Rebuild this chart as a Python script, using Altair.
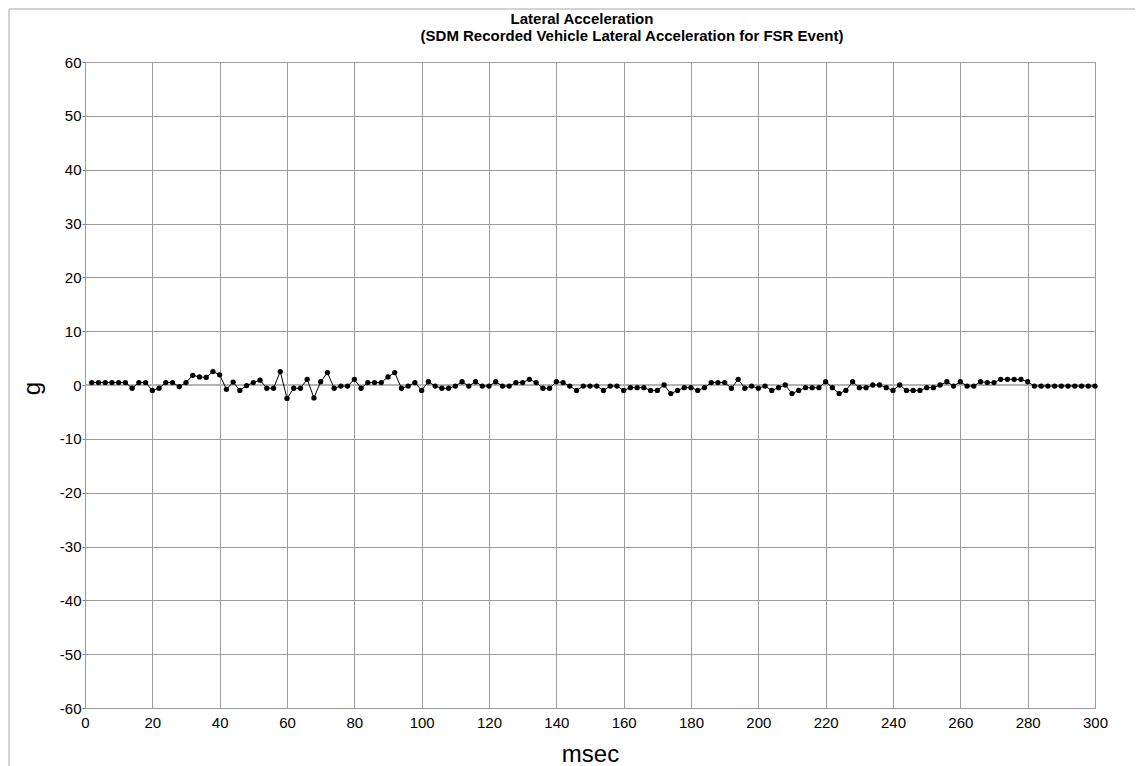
import altair as alt
import pandas as pd

# Sample times (msec)
msec = [
    2, 4, 6, 8, 10, 12, 14, 16, 18, 20, 22, 24, 26, 28, 30, 32, 34, 36, 38, 40,
    42, 44, 46, 48, 50, 52, 54, 56, 58, 60, 62, 64, 66, 68, 70, 72, 74, 76, 78, 80,
    82, 84, 86, 88, 90, 92, 94, 96, 98, 100, 102, 104, 106, 108, 110, 112, 114, 116, 118, 120,
    122, 124, 126, 128, 130, 132, 134, 136, 138, 140, 142, 144, 146, 148, 150, 152, 154, 156, 158, 160,
    162, 164, 166, 168, 170, 172, 174, 176, 178, 180, 182, 184, 186, 188, 190, 192, 194, 196, 198, 200,
    202, 204, 206, 208, 210, 212, 214, 216, 218, 220, 222, 224, 226, 228, 230, 232, 234, 236, 238, 240,
    242, 244, 246, 248, 250, 252, 254, 256, 258, 260, 262, 264, 266, 268, 270, 272, 274, 276, 278, 280,
    282, 284, 286, 288, 290, 292, 294, 296, 298, 300,
]

# Lateral acceleration (g)
accel_g = [
    0.45, 0.45, 0.45, 0.45, 0.45, 0.45, -0.6, 0.45, 0.45, -1.0,
    -0.6, 0.45, 0.45, -0.3, 0.45, 1.8, 1.5, 1.4, 2.5, 1.9,
    -0.8, 0.55, -1.0, -0.1, 0.45, 0.9, -0.6, -0.6, 2.5, -2.5,
    -0.6, -0.6, 1.05, -2.4, 0.6, 2.3, -0.6, -0.2, -0.2, 1.05,
    -0.6, 0.45, 0.45, 0.45, 1.5, 2.3, -0.6, -0.2, 0.45, -1.0,
    0.6, -0.2, -0.6, -0.6, -0.2, 0.6, -0.2, 0.6, -0.2, -0.2,
    0.6, -0.2, -0.2, 0.45, 0.45, 1.05, 0.45, -0.6, -0.6, 0.6,
    0.45, -0.2, -1.0, -0.2, -0.2, -0.2, -1.0, -0.2, -0.2, -1.0,
    -0.5, -0.5, -0.5, -1.0, -1.0, 0.0, -1.6, -1.0, -0.5, -0.5,
    -1.0, -0.5, 0.45, 0.45, 0.45, -0.6, 1.05, -0.6, -0.2, -0.6,
    -0.2, -1.0, -0.5, 0.0, -1.6, -1.0, -0.5, -0.5, -0.5, 0.6,
    -0.5, -1.6, -1.0, 0.6, -0.5, -0.5, 0.0, 0.0, -0.5, -1.0,
    0.0, -1.0, -1.0, -1.0, -0.5, -0.5, 0.0, 0.6, -0.2, 0.6,
    -0.2, -0.2, 0.6, 0.45, 0.45, 1.05, 1.05, 1.05, 1.05, 0.6,
    -0.2, -0.2, -0.2, -0.2, -0.2, -0.2, -0.2, -0.2, -0.2, -0.2,
]

x_ticks = [0, 20, 40, 60, 80, 100, 120, 140, 160, 180, 200, 220, 240, 260, 280, 300]
y_ticks = [-60, -50, -40, -30, -20, -10, 0, 10, 20, 30, 40, 50, 60]

title_line1 = "Lateral Acceleration"
title_line2 = "(SDM Recorded Vehicle Lateral Acceleration for FSR Event)"

df = pd.DataFrame({"msec": msec, "g": accel_g})

FONT = "Liberation Sans"
W, H = 1010, 646
GRID = "#9c9c9c"

x_enc = alt.X(
    "msec:Q",
    scale=alt.Scale(domain=[0, 300], nice=False, zero=False),
    axis=alt.Axis(
        values=x_ticks, title="msec", titleFontSize=24, titleFontWeight="normal",
        titleColor="black", titleBaseline="alphabetic", titleY=53,
        labelFontSize=15, labelColor="black", labelPadding=7, tickSize=0,
        labelFont=FONT, titleFont=FONT, labelFlush=False,
        labelExpr="'' + datum.value",
        grid=True, gridColor=GRID, gridWidth=1, domainColor=GRID,
    ),
)
y_enc = alt.Y(
    "g:Q",
    scale=alt.Scale(domain=[-60, 60], nice=False),
    axis=alt.Axis(
        values=y_ticks, title="g", titleFontSize=24, titleFontWeight="normal",
        titleColor="black", titleAngle=270, titleBaseline="middle", titleAlign="center",
        titleX=-53, titleY=H / 2 + 3,
        labelFontSize=15, labelColor="black", labelPadding=1, tickSize=3,
        tickColor="#808080", labelFont=FONT, titleFont=FONT, labelFlush=False,
        labelExpr="'' + datum.value",
        grid=True, gridColor=GRID, gridWidth=1, domainColor=GRID,
    ),
)

base = alt.Chart(df)

zero_rule = base.mark_rule(color="#b4b4b4", strokeWidth=2).encode(
    y=alt.datum(0)
)

line = base.mark_line(color="black", strokeWidth=1).encode(x=x_enc, y=y_enc)
pts = base.mark_circle(color="black", opacity=1, size=28).encode(x="msec:Q", y="g:Q")

one = alt.Data(values=[{"a": 1}])
t1 = alt.Chart(one).mark_text(
    text=title_line1, font=FONT, fontSize=15, fontWeight="bold", color="black",
    align="center", baseline="middle",
).encode(x=alt.value(497), y=alt.value(-43))
t2 = alt.Chart(one).mark_text(
    text=title_line2, font=FONT, fontSize=15, fontWeight="bold", color="black",
    align="center", baseline="middle",
).encode(x=alt.value(547), y=alt.value(-26))

frame_left = alt.Chart(one).mark_rule(color="#d4d4d4", strokeWidth=2).encode(
    x=alt.value(-76), y=alt.value(-53), y2=alt.value(H + 60)
)
frame_top = alt.Chart(one).mark_rule(color="#d4d4d4", strokeWidth=2).encode(
    x=alt.value(-76), x2=alt.value(W + 60), y=alt.value(-53)
)

chart = alt.layer(
    zero_rule, line, pts, t1, t2, frame_left, frame_top
).properties(
    width=W, height=H,
    autosize=alt.AutoSizeParams(type="none"),
    padding={"left": 77, "top": 54, "right": 40, "bottom": 58},
).configure_view(
    stroke=GRID, strokeWidth=1,
).configure(background="white")

chart.save("out.html", embed_options={"renderer": "svg", "actions": False})
